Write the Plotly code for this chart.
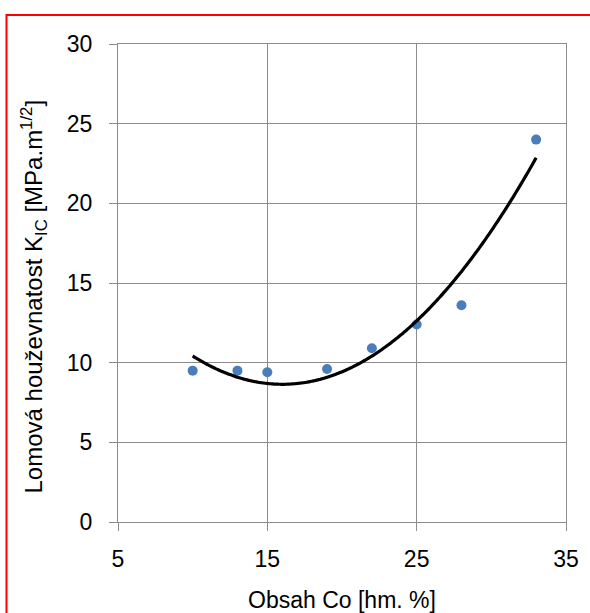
import numpy as np
import plotly.graph_objects as go

# Data
co_content = [10, 13, 15, 19, 22, 25, 28, 33]
kic_values = [9.5, 9.5, 9.4, 9.6, 10.9, 12.4, 13.6, 24.0]

x_ticks = [5, 15, 25, 35]
y_ticks = [0, 5, 10, 15, 20, 25, 30]

x_title = "Obsah Co [hm. %]"
y_title = "Lomová houževnatost K<sub>IC</sub> [MPa.m<sup>1/2</sup>]"

# Polynomial (2nd order) trendline as computed from the data
coef = np.polyfit(co_content, kic_values, 2)
xt = np.linspace(min(co_content), max(co_content), 200)
yt = np.polyval(coef, xt)

FONT = "Liberation Sans"
GRID = "#8c8c8c"
FS = 23

fig = go.Figure()
fig.add_trace(go.Scatter(x=co_content, y=kic_values, mode="markers",
                         marker=dict(color="#4a7ebb", size=10),
                         showlegend=False, hoverinfo="x+y"))
fig.add_trace(go.Scatter(x=xt, y=yt, mode="lines",
                         line=dict(color="black", width=3.2, shape="spline"),
                         showlegend=False, hoverinfo="skip"))

fig.update_layout(
    width=590, height=613,
    margin=dict(l=118, r=24, t=44, b=91),
    paper_bgcolor="white", plot_bgcolor="white",
    font=dict(family=FONT, size=FS, color="black"),
    xaxis=dict(range=[5, 35], tickvals=x_ticks, ticktext=[str(v) for v in x_ticks],
               showgrid=True, gridcolor=GRID, gridwidth=1.3,
               showline=True, linecolor=GRID, linewidth=1.3, mirror=True,
               ticks="outside", ticklen=8, tickcolor=GRID, tickwidth=1.3,
               zeroline=False, ticklabelstandoff=8, automargin=False,
               title=dict(text=x_title, standoff=22,
                          font=dict(family=FONT, size=FS))),
    yaxis=dict(range=[0, 30], tickvals=y_ticks, ticktext=[str(v) for v in y_ticks],
               showgrid=True, gridcolor=GRID, gridwidth=1.3,
               showline=True, linecolor=GRID, linewidth=1.3, mirror=True,
               ticks="outside", ticklen=8, tickcolor=GRID, tickwidth=1.3,
               zeroline=False, ticklabelstandoff=12, automargin=False),
    annotations=[dict(text=y_title, xref="paper", yref="paper",
                      x=(33.5 - 118) / 448, y=(522 - 297) / 478,
                      xanchor="center", yanchor="middle", textangle=-90,
                      showarrow=False, font=dict(family=FONT, size=24))],
    shapes=[dict(type="rect", xref="paper", yref="paper",
                 x0=(6.5 - 118) / 448, x1=1.3, y0=-0.4, y1=(522 - 15) / 478,
                 line=dict(color="red", width=2), fillcolor="rgba(0,0,0,0)",
                 layer="above")],
)

fig.write_html("out.html")
